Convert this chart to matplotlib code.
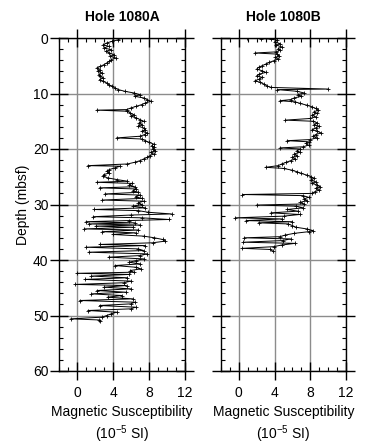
import matplotlib
matplotlib.use("Agg")
import matplotlib.pyplot as plt
from matplotlib.ticker import MultipleLocator

plt.rcParams['font.family'] = ['Liberation Sans', 'DejaVu Sans']
plt.rcParams['mathtext.fontset'] = 'custom'
plt.rcParams['mathtext.rm'] = 'Liberation Sans'

# Hole 1080A: depth (mbsf) and magnetic susceptibility (10^-5 SI)
depth_a = [0.0, 0.3, 0.6, 0.9, 1.2, 1.5, 1.8, 2.1, 2.4, 2.7, 3.0, 3.3, 3.6, 3.9, 4.2, 4.5, 4.8,
           5.1, 5.4, 5.7, 6.0, 6.3, 6.6, 6.9, 7.2, 7.5, 7.8, 8.1, 8.4, 8.7, 9.0, 9.3, 9.6, 9.9,
           10.2, 10.5, 10.8, 11.1, 11.4, 11.7, 12.0, 12.3, 12.6, 12.9, 13.0, 13.2, 13.5, 13.8,
           14.1, 14.4, 14.7, 15.0, 15.3, 15.6, 15.9, 16.2, 16.5, 16.8, 17.1, 17.4, 17.7, 18.0,
           18.2, 18.5, 18.8, 19.1, 19.4, 19.7, 20.0, 20.3, 20.6, 20.9, 21.2, 21.5, 21.8, 22.1,
           22.4, 22.7, 23.0, 23.1, 23.4, 23.7, 24.0, 24.3, 24.6, 24.9, 25.2, 25.5, 25.8, 26.0,
           26.2, 26.5, 26.8, 27.0, 27.2, 27.5, 27.8, 28.1, 28.3, 28.6, 28.9, 29.2, 29.4, 29.7,
           30.0, 30.3, 30.6, 30.9, 31.1, 31.4, 31.7, 31.9, 32.2, 32.4, 32.7, 32.9, 33.1, 33.3,
           33.5, 33.7, 33.9, 34.1, 34.4, 34.6, 34.9, 35.1, 35.4, 35.7, 36.0, 36.3, 36.6, 36.9,
           37.2, 37.4, 37.7, 38.0, 38.3, 38.6, 38.9, 39.2, 39.5, 39.8, 40.1, 40.4, 40.7, 41.0,
           41.3, 41.6, 41.9, 42.2, 42.4, 42.6, 42.9, 43.2, 43.5, 43.8, 44.1, 44.4, 44.6, 44.9,
           45.2, 45.5, 45.8, 46.1, 46.4, 46.7, 47.0, 47.3, 47.6, 47.9, 48.2, 48.5, 48.8, 49.1,
           49.4, 49.7, 50.0, 50.3, 50.6, 50.8, 51.0]
ms_a = [5.0, 4.6, 3.9, 3.3, 2.9, 3.5, 3.0, 3.8, 3.2, 3.6, 4.1, 3.7, 4.3, 3.8, 3.6, 3.3, 3.0,
        2.6, 2.2, 2.5, 2.3, 2.8, 2.4, 2.6, 2.9, 2.5, 2.9, 3.3, 3.5, 3.9, 4.2, 4.6, 5.3, 6.3,
        7.0, 6.4, 7.4, 7.8, 8.2, 7.6, 7.2, 6.6, 6.0, 5.5, 2.2, 5.6, 5.9, 6.3,
        6.0, 6.6, 7.0, 7.4, 6.9, 7.2, 6.8, 7.4, 7.6, 7.2, 7.8, 7.5, 7.0, 4.4,
        7.2, 7.6, 8.0, 8.5, 8.3, 8.6, 8.4, 8.7, 8.2, 8.5, 8.1, 7.8, 7.4, 7.0,
        6.4, 5.6, 1.2, 4.8, 4.2, 3.6, 3.3, 3.6, 3.0, 2.9, 3.4, 4.4, 5.6, 2.2,
        6.1, 5.8, 6.4, 2.5, 6.6, 6.2, 6.8, 3.1, 7.0, 6.5, 7.2, 2.8, 7.4, 6.8,
        7.2, 6.2, 7.6, 1.9, 6.8, 7.9, 10.5, 6.0, 1.8, 7.2, 10.2, 5.8, 1.0, 6.4,
        1.3, 7.0, 2.1, 6.2, 0.8, 6.8, 2.8, 6.5, 4.0, 7.4, 8.6, 9.5, 9.8, 8.4,
        2.5, 7.6, 1.0, 6.8, 7.4, 1.3, 7.8, 7.0, 3.5, 7.4, 6.6, 5.8, 7.0, 4.2,
        6.5, 7.1, 5.9, 6.3, 0.0, 5.8, 1.6, 5.6, 0.9, 6.0, 5.2, -0.2, 5.5, 3.0,
        6.0, 2.2, 5.4, 1.6, 5.0, 3.4, 6.2, 0.3, 6.4, 6.0, 2.5, 6.5, 6.0, 1.2,
        4.4, 3.8, 3.3, 2.8, -0.7, 2.4, 2.6]

# Hole 1080B
depth_b = [0.0, 0.1, 0.2, 0.4, 0.7, 1.0, 1.3, 1.6, 1.9, 2.2, 2.5, 2.7, 2.9, 3.2, 3.5, 3.8,
           4.1, 4.4, 4.7, 5.0, 5.3, 5.6, 5.9, 6.2, 6.5, 6.8, 7.1, 7.4, 7.7, 8.0, 8.3, 8.6,
           8.9, 9.2, 9.3, 9.6, 9.9, 10.2, 10.5, 10.8, 11.1, 11.3, 11.5, 11.8, 12.1, 12.4,
           12.7, 13.0, 13.3, 13.6, 13.9, 14.2, 14.5, 14.8, 15.0, 15.3, 15.6, 15.9, 16.2,
           16.5, 16.8, 17.1, 17.4, 17.7, 18.0, 18.3, 18.5, 18.7, 19.0, 19.3, 19.6, 19.8,
           20.0, 20.3, 20.6, 20.9, 21.2, 21.5, 21.8, 22.1, 22.4, 22.7, 23.0, 23.3, 23.5,
           23.8, 24.1, 24.4, 24.7, 25.0, 25.3, 25.6, 25.9, 26.2, 26.5, 26.8, 27.1, 27.4,
           27.7, 28.0, 28.2, 28.4, 28.7, 29.0, 29.3, 29.6, 29.9, 30.1, 30.3, 30.6, 30.9,
           31.2, 31.5, 31.8, 32.1, 32.4, 32.6, 32.9, 33.1, 33.3, 33.5, 33.8, 34.1, 34.4,
           34.7, 34.9, 35.2, 35.5, 35.8, 36.0, 36.2, 36.5, 36.8, 37.0, 37.3, 37.6, 37.9,
           38.1, 38.4]
ms_b = [0.9, 2.5, 3.6, 4.3, 4.0, 4.6, 4.2, 4.8, 4.4, 4.6, 4.2, 1.8, 4.3, 4.5, 4.1, 4.4,
        3.9, 3.4, 3.0, 2.6, 2.2, 2.0, 2.6, 3.0, 2.3, 2.0, 2.6, 2.3, 1.8, 2.4, 2.8, 3.1,
        3.6, 10.0, 4.3, 6.5, 7.3, 6.6, 7.0, 6.2, 5.8, 4.6, 6.3, 6.9, 7.6, 8.2,
        8.6, 8.9, 8.4, 8.7, 8.2, 8.6, 8.0, 5.2, 8.3, 8.8, 8.4, 9.0, 8.6,
        8.2, 8.8, 9.2, 8.6, 8.3, 8.7, 8.0, 5.4, 7.8, 7.5, 7.8, 7.2, 4.6,
        6.9, 6.5, 6.8, 6.2, 6.5, 6.0, 6.3, 5.8, 5.3, 4.8, 4.4, 3.0, 5.0,
        5.9, 6.5, 7.0, 7.6, 8.1, 8.4, 8.1, 8.6, 8.2, 8.8, 9.1, 8.6, 9.0,
        8.5, 8.2, 0.4, 7.2, 7.8, 7.3, 7.6, 6.9, 7.3, 2.0, 6.4, 7.2, 5.4,
        6.6, 3.6, 6.8, 5.0, -0.4, 4.8, 0.8, 6.0, 2.2, 5.5, 6.0, 6.4, 7.6,
        8.3, 7.8, 6.2, 5.2, 4.6, 0.6, 5.8, 4.9, 0.5, 6.3, 4.8, 3.9, 0.4,
        3.5, 3.8]

titles = ['Hole 1080A', 'Hole 1080B']
x_ticks = [0, 4, 8, 12]
y_ticks = [0, 10, 20, 30, 40, 50, 60]

fig = plt.figure(figsize=(3.66, 4.45), dpi=100)
ax_a = fig.add_axes([59/366, 1 - 371/445, 126/366, 333/445])
ax_b = fig.add_axes([221/366, 1 - 371/445, 125/366, 333/445])

for i, (ax, d, v, t) in enumerate(zip([ax_a, ax_b], [depth_a, depth_b], [ms_a, ms_b], titles)):
    ax.set_xlim(-2, 12)
    ax.set_ylim(60, 0)
    ax.set_xticks(x_ticks)
    ax.set_yticks(y_ticks)
    ax.xaxis.set_minor_locator(MultipleLocator(1))
    ax.yaxis.set_minor_locator(MultipleLocator(2))
    ax.grid(True, which='major', color='#8c8c8c', linewidth=1.0, zorder=0)
    ax.set_axisbelow(True)
    ax.plot(v, d, color='black', linewidth=0.7, marker='+', markersize=3.5,
            markeredgewidth=0.6, zorder=3)
    ax.tick_params(which='major', direction='inout', length=13, width=1.0,
                   top=True, right=True, labelsize=10)
    ax.tick_params(axis='x', which='major', pad=4)
    ax.tick_params(axis='y', which='major', pad=1)
    ax.tick_params(which='minor', direction='in', length=3, width=0.8,
                   top=True, right=True)
    for s in ax.spines.values():
        s.set_linewidth(1.0)
    ax.set_title(t, fontsize=10, fontweight='bold', pad=12)
    ax.set_xlabel('Magnetic Susceptibility\n(10$^{\\mathregular{-5}}$ SI)', fontsize=10,
                  linespacing=1.25, labelpad=4)
    if i == 0:
        ax.set_ylabel('Depth (mbsf)', fontsize=10, labelpad=2)
    else:
        ax.tick_params(labelleft=False)

fig.savefig('out.png', dpi=100)
